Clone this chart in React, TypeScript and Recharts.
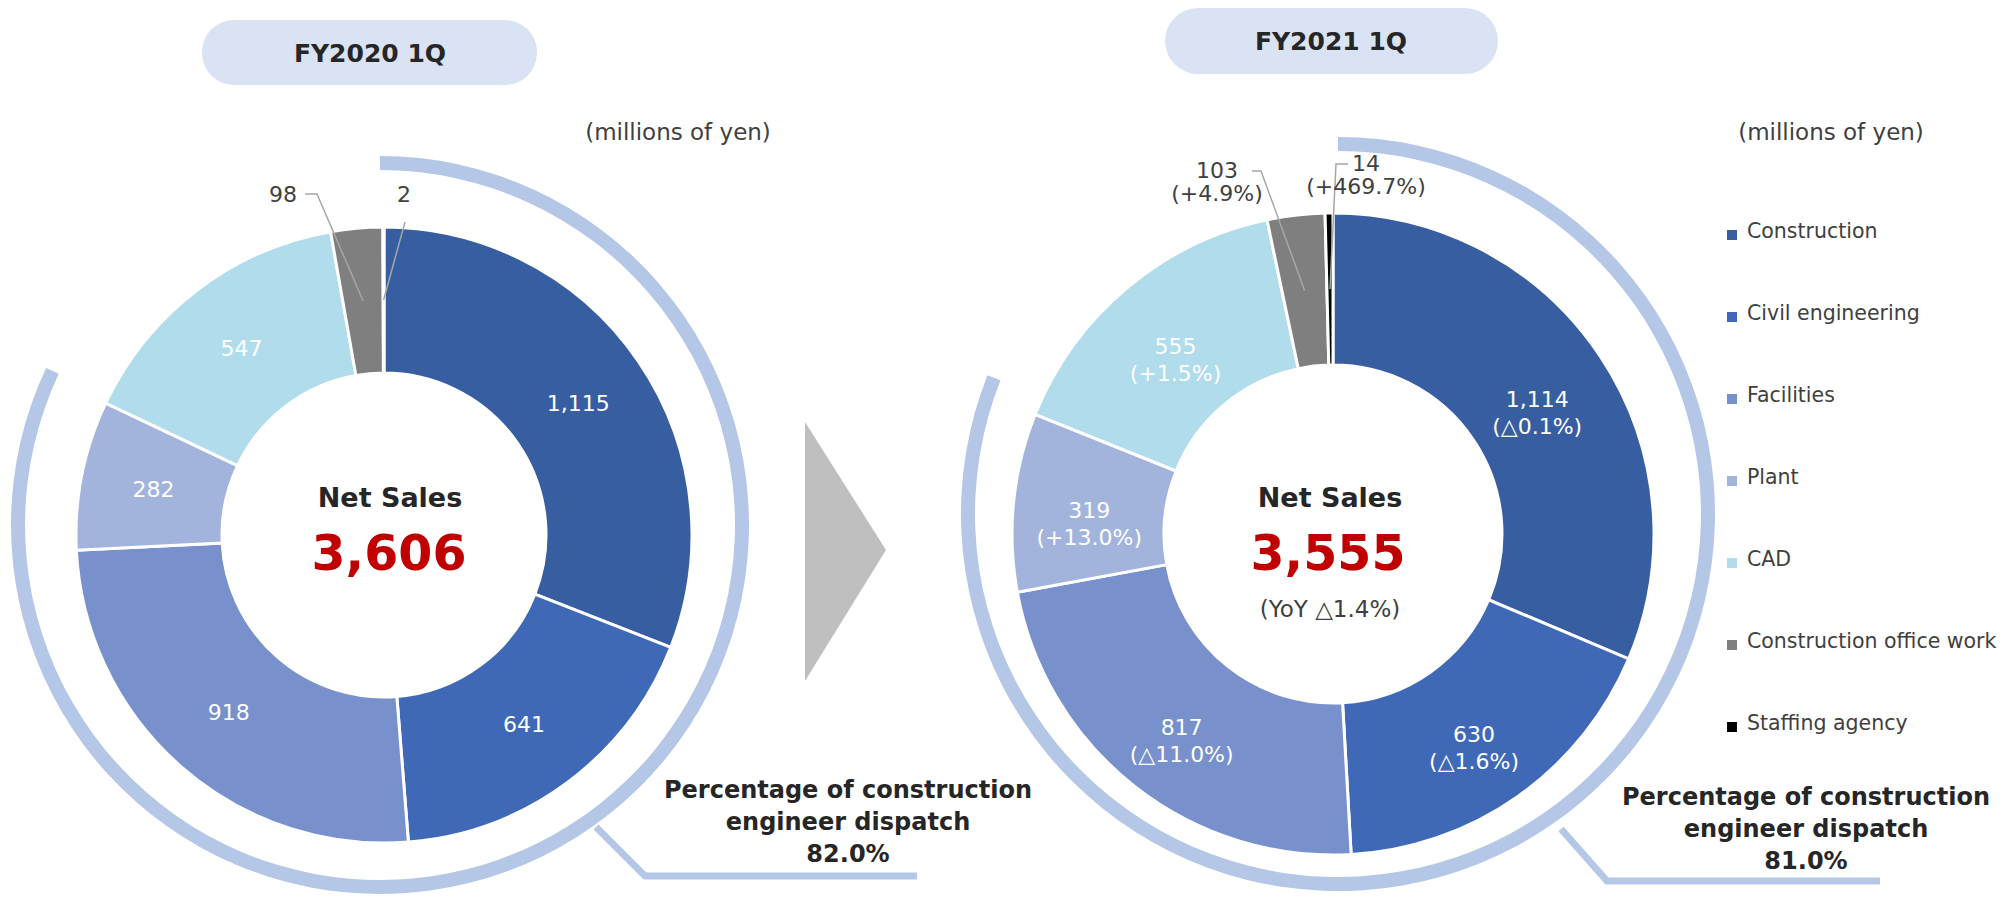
import React from "react";
import { PieChart, Pie, Cell, Legend } from "recharts";

const categories = [
  "Construction",
  "Civil engineering",
  "Facilities",
  "Plant",
  "CAD",
  "Construction office work",
  "Staffing agency",
];
const sales2020 = [1115, 641, 918, 282, 547, 98, 2];
const sales2021 = [1114, 630, 817, 319, 555, 103, 14];
const yoy2021 = ["△0.1%", "△1.6%", "△11.0%", "+13.0%", "+1.5%", "+4.9%", "+469.7%"];
const periods = ["FY2020 1Q", "FY2021 1Q"];
const netSales = ["3,606", "3,555"];
const netSalesYoY = "△1.4%";
const dispatchShare = [82.0, 81.0];

const colors = ["#385EA2", "#3F69B6", "#7890CC", "#A3B4DC", "#B0DCEB", "#7F7F7F", "#000000"];
const RING = "#B4C7E7";
const FONT = "'DejaVu Sans', Verdana, sans-serif";
const RAD = Math.PI / 180;

const toRows = (values: number[]) => categories.map((name, i) => ({ name, value: values[i] }));
const ringRows = (share: number) => [
  { name: "dispatch", value: share },
  { name: "other", value: +(100 - share).toFixed(1) },
];

type Callout = { elbow: number[][]; x: number; y: number; anchor: "start" | "middle" | "end" };

// hand-placed callouts for the thin slices at the top
const callouts2020: Record<number, Callout> = {
  5: { elbow: [[305, 194], [317, 194]], x: 297, y: 194, anchor: "end" },
  6: { elbow: [[405, 222]], x: 404, y: 194, anchor: "middle" },
};
const callouts2021: Record<number, Callout> = {
  5: { elbow: [[1252, 171], [1261, 171]], x: 1217, y: 170, anchor: "middle" },
  6: { elbow: [[1348, 164], [1336, 164]], x: 1366, y: 163, anchor: "middle" },
};

const makeLabel = (callouts: Record<number, Callout>, yoy?: string[]) => (props: any) => {
  const { cx, cy, midAngle, innerRadius, outerRadius, index, value } = props;
  const r = (innerRadius + outerRadius) / 2;
  const x = cx + r * Math.cos(-midAngle * RAD);
  const y = cy + r * Math.sin(-midAngle * RAD);
  const text = Number(value).toLocaleString("en-US");
  const c = callouts[index];
  if (c) {
    const pts = [...c.elbow, [x, y]].map((p) => p.join(",")).join(" ");
    return (
      <g key={`lbl-${index}`}>
        <polyline points={pts} fill="none" stroke="#A6A6A6" strokeWidth={1.5} />
        <text x={c.x} y={c.y + 8} textAnchor={c.anchor} fill="#404040" fontSize={22} fontFamily={FONT}>
          <tspan x={c.x}>{text}</tspan>
          {yoy && (
            <tspan x={c.x} dy={23}>
              ({yoy[index]})
            </tspan>
          )}
        </text>
      </g>
    );
  }
  return (
    <text key={`lbl-${index}`} x={x} y={y + 8} textAnchor="middle" fill="#fff" fontSize={22} fontFamily={FONT}>
      <tspan x={x}>{text}</tspan>
      {yoy && (
        <tspan x={x} dy={27}>
          ({yoy[index]})
        </tspan>
      )}
    </text>
  );
};

const LegendBox = () => (
  <div style={{ fontFamily: FONT, fontSize: 20.5, color: "#404040" }}>
    {categories.map((name, i) => (
      <div key={name} style={{ height: 82, display: "flex", alignItems: "center", whiteSpace: "nowrap" }}>
        <span
          style={{ flex: "0 0 10px", width: 10, height: 10, background: colors[i], marginRight: 10, marginTop: 8 }}
        />
        <span>{name}</span>
      </div>
    ))}
  </div>
);

const App = () => {
  return (
    <div style={{ position: "fixed", left: 0, top: 0, width: 2003, height: 903, background: "#fff" }}>
      <PieChart width={2003} height={903} margin={{ top: 0, right: 0, bottom: 0, left: 0 }}>
        {/* title pills */}
        <rect x={202} y={20} width={335} height={65} rx={32} fill="#DAE3F3" />
        <text x={370} y={62} textAnchor="middle" fontSize={25} fontWeight="bold" fill="#262626" fontFamily={FONT}>
          {periods[0]}
        </text>
        <rect x={1165} y={8} width={333} height={66} rx={33} fill="#DAE3F3" />
        <text x={1331} y={50} textAnchor="middle" fontSize={25} fontWeight="bold" fill="#262626" fontFamily={FONT}>
          {periods[1]}
        </text>

        <text x={678} y={140} textAnchor="middle" fontSize={23} fill="#404040" fontFamily={FONT}>
          (millions of yen)
        </text>
        <text x={1831} y={140} textAnchor="middle" fontSize={23} fill="#404040" fontFamily={FONT}>
          (millions of yen)
        </text>

        {/* dispatch share rings */}
        <Pie
          data={ringRows(dispatchShare[0])}
          dataKey="value"
          cx={380}
          cy={525}
          innerRadius={355}
          outerRadius={369}
          startAngle={90}
          endAngle={-270}
          stroke="none"
          isAnimationActive={false}
        >
          <Cell fill={RING} />
          <Cell fill="none" />
        </Pie>
        <Pie
          data={ringRows(dispatchShare[1])}
          dataKey="value"
          cx={1338}
          cy={514}
          innerRadius={363}
          outerRadius={377}
          startAngle={90}
          endAngle={-270}
          stroke="none"
          isAnimationActive={false}
        >
          <Cell fill={RING} />
          <Cell fill="none" />
        </Pie>

        <polyline points="596,827 645,876 917,876" fill="none" stroke={RING} strokeWidth={7} />
        <polyline points="1561,829 1607,881 1880,881" fill="none" stroke={RING} strokeWidth={7} />

        {/* donuts */}
        <Pie
          data={toRows(sales2020)}
          dataKey="value"
          nameKey="name"
          cx={384}
          cy={535}
          innerRadius={162}
          outerRadius={308}
          startAngle={90}
          endAngle={-270}
          stroke="#fff"
          strokeWidth={3}
          label={makeLabel(callouts2020)}
          labelLine={false}
          isAnimationActive={false}
        >
          {sales2020.map((_, i) => (
            <Cell key={i} fill={colors[i]} />
          ))}
        </Pie>
        <Pie
          data={toRows(sales2021)}
          dataKey="value"
          nameKey="name"
          cx={1333}
          cy={534}
          innerRadius={169}
          outerRadius={321}
          startAngle={90}
          endAngle={-270}
          stroke="#fff"
          strokeWidth={3}
          label={makeLabel(callouts2021, yoy2021)}
          labelLine={false}
          isAnimationActive={false}
        >
          {sales2021.map((_, i) => (
            <Cell key={i} fill={colors[i]} />
          ))}
        </Pie>

        {/* centre text */}
        <text x={390} y={507} textAnchor="middle" fontSize={27} fontWeight="bold" fill="#262626" fontFamily={FONT}>
          Net Sales
        </text>
        <text x={389} y={570} textAnchor="middle" fontSize={49} fontWeight="bold" fill="#C00000" fontFamily={FONT}>
          {netSales[0]}
        </text>
        <text x={1330} y={507} textAnchor="middle" fontSize={27} fontWeight="bold" fill="#262626" fontFamily={FONT}>
          Net Sales
        </text>
        <text x={1328} y={570} textAnchor="middle" fontSize={49} fontWeight="bold" fill="#C00000" fontFamily={FONT}>
          {netSales[1]}
        </text>
        <text x={1330} y={617} textAnchor="middle" fontSize={23} fill="#404040" fontFamily={FONT}>
          (YoY {netSalesYoY})
        </text>

        {/* arrow */}
        <polygon points="805,422 886,550 805,681" fill="#BFBFBF" />

        {/* dispatch share captions */}
        <text textAnchor="middle" fontSize={24} fontWeight="bold" fill="#262626" fontFamily={FONT}>
          <tspan x={848} y={798}>Percentage of construction</tspan>
          <tspan x={848} y={830}>engineer dispatch</tspan>
          <tspan x={848} y={862}>{dispatchShare[0].toFixed(1)}%</tspan>
        </text>
        <text textAnchor="middle" fontSize={24} fontWeight="bold" fill="#262626" fontFamily={FONT}>
          <tspan x={1806} y={805}>Percentage of construction</tspan>
          <tspan x={1806} y={837}>engineer dispatch</tspan>
          <tspan x={1806} y={869}>{dispatchShare[1].toFixed(1)}%</tspan>
        </text>

        <Legend content={() => <LegendBox />} wrapperStyle={{ position: "absolute", left: 1727, top: 190, width: 276 }} />
      </PieChart>
    </div>
  );
};

export default App;
